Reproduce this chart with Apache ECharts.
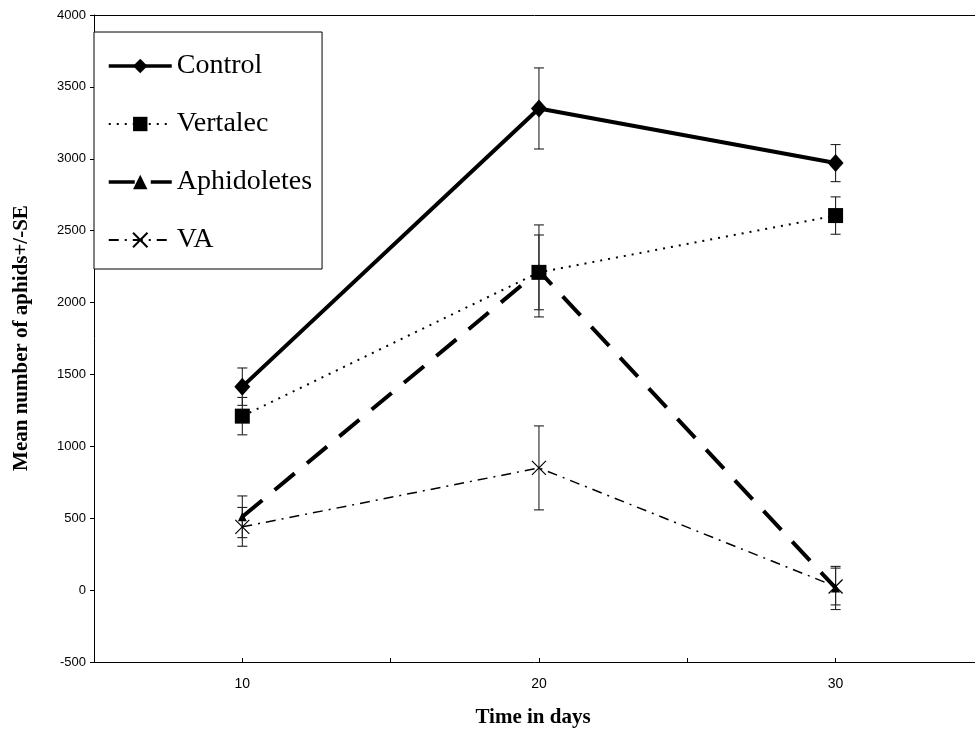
<!DOCTYPE html>
<html>
<head>
<meta charset="utf-8">
<script src="https://cdn.jsdelivr.net/npm/echarts@6/dist/echarts.min.js"></script>
<style>
html,body{margin:0;padding:0;background:#fff;}
#chart{width:975px;height:737px;}
</style>
</head>
<body>
<div id="chart"></div>
<script>
var days = [10, 20, 30];
var control = [1415, 3350, 2970];
var controlSE = [130, 282, 129];
var vertalec = [1210, 2210, 2605];
var vertalecSE = [130, 260, 130];
var aphidoletes = [510, 2220, 15];
var aphidoletesSE = [145, 320, 150];
var va = [440, 850, 25];
var vaSE = [135, 292, 128];
var yTicks = [-500, 0, 500, 1000, 1500, 2000, 2500, 3000, 3500, 4000];
var xLabels = [10, 20, 30];

function pts(vals) { return days.map(function (d, i) { return [d, vals[i]]; }); }
function errs(vals, se) { return days.map(function (d, i) { return [d, vals[i] - se[i], vals[i] + se[i]]; }); }

var errData = [].concat(errs(control, controlSE), errs(vertalec, vertalecSE), errs(aphidoletes, aphidoletesSE), errs(va, vaSE));

function renderErr(params, api) {
  var x = api.value(0);
  var lo = api.coord([x, api.value(1)]);
  var hi = api.coord([x, api.value(2)]);
  var w = 5;
  var st = { stroke: '#222', lineWidth: 1.1 };
  return {
    type: 'group',
    children: [
      { type: 'line', shape: { x1: lo[0], y1: lo[1], x2: hi[0], y2: hi[1] }, style: st },
      { type: 'line', shape: { x1: lo[0] - w, y1: lo[1], x2: lo[0] + w, y2: lo[1] }, style: st },
      { type: 'line', shape: { x1: hi[0] - w, y1: hi[1], x2: hi[0] + w, y2: hi[1] }, style: st }
    ]
  };
}

var chart = echarts.init(document.getElementById('chart'), null, { renderer: 'canvas' });
var option = {
  animation: false,
  backgroundColor: '#fff',
  grid: { left: 94, right: 0, top: 15, bottom: 75, show: false },
  legend: {
    orient: 'vertical',
    left: 94, top: 32,
    padding: [20, 10, 15, 13],
    itemGap: 30,
    itemWidth: 63,
    itemHeight: 18,
    backgroundColor: '#fff',
    borderColor: '#000',
    borderWidth: 1,
    z: 20,
    textStyle: { fontFamily: 'Liberation Serif', fontSize: 28, color: '#000' },
    data: [
      { name: 'Control', lineStyle: { width: 3.5 } },
      { name: 'Vertalec' },
      { name: 'Aphidoletes', lineStyle: { width: 3.5 } },
      { name: 'VA' }
    ]
  },
  xAxis: [{
    type: 'value', min: 5, max: 34.7, interval: 5,
    axisLine: { show: true, onZero: false, lineStyle: { color: '#000', width: 1 } },
    axisTick: { show: true, inside: true, length: 4, lineStyle: { color: '#000' } },
    splitLine: { show: false },
    axisLabel: {
      fontFamily: 'Liberation Sans', fontSize: 14, color: '#000', margin: 15, showMaxLabel: false,
      formatter: function (v) { return xLabels.indexOf(v) >= 0 ? String(v) : ''; }
    }
  }, {
    type: 'value', position: 'top', min: 5, max: 34.7, interval: 5,
    axisLine: { show: true, onZero: false, lineStyle: { color: '#000', width: 1 } },
    axisTick: { show: false }, axisLabel: { show: false }, splitLine: { show: false }
  }],
  yAxis: {
    type: 'value', min: yTicks[0], max: yTicks[yTicks.length - 1], interval: 500,
    axisLine: { show: true, onZero: false, lineStyle: { color: '#000', width: 1 } },
    axisTick: { show: true, inside: false, length: 4, lineStyle: { color: '#000' } },
    splitLine: { show: false },
    axisLabel: { fontFamily: 'Liberation Sans', fontSize: 13, color: '#000', margin: 8,
      formatter: function (v) { return String(v); } }
  },
  graphic: [
    { type: 'text', x: 22, y: 338, rotation: Math.PI / 2,
      style: { text: 'Mean number of aphids+/-SE', font: 'bold 21px "Liberation Serif"', fill: '#000', textAlign: 'center', textVerticalAlign: 'middle' } },
    { type: 'text', x: 533, y: 718,
      style: { text: 'Time in days', font: 'bold 21px "Liberation Serif"', fill: '#000', textAlign: 'center', textVerticalAlign: 'middle' } }
  ],
  series: [
    { type: 'custom', name: 'err', renderItem: renderErr, data: errData, z: 1, silent: true },
    { type: 'line', name: 'Control', data: pts(control), symbol: 'diamond', symbolSize: [16, 18],
      lineStyle: { color: '#000', width: 4, type: 'solid' }, itemStyle: { color: '#000' }, z: 5 },
    { type: 'line', name: 'Vertalec', data: pts(vertalec), symbol: 'rect', symbolSize: 15,
      lineStyle: { color: '#000', width: 2, type: [2, 6] }, itemStyle: { color: '#000' }, z: 5 },
    { type: 'line', name: 'Aphidoletes', data: pts(aphidoletes), symbol: 'triangle', symbolSize: 9,
      lineStyle: { color: '#000', width: 4, type: [26, 16] }, itemStyle: { color: '#000' }, z: 5 },
    { type: 'line', name: 'VA', data: pts(va), symbol: 'path://M0,0L10,10M10,0L0,10', symbolSize: 14,
      lineStyle: { color: '#000', width: 1.5, type: [10, 6, 2, 6] }, itemStyle: { color: '#000', borderColor: '#000', borderWidth: 1.2 }, z: 5 }
  ]
};
chart.setOption(option);
</script>
</body>
</html>
